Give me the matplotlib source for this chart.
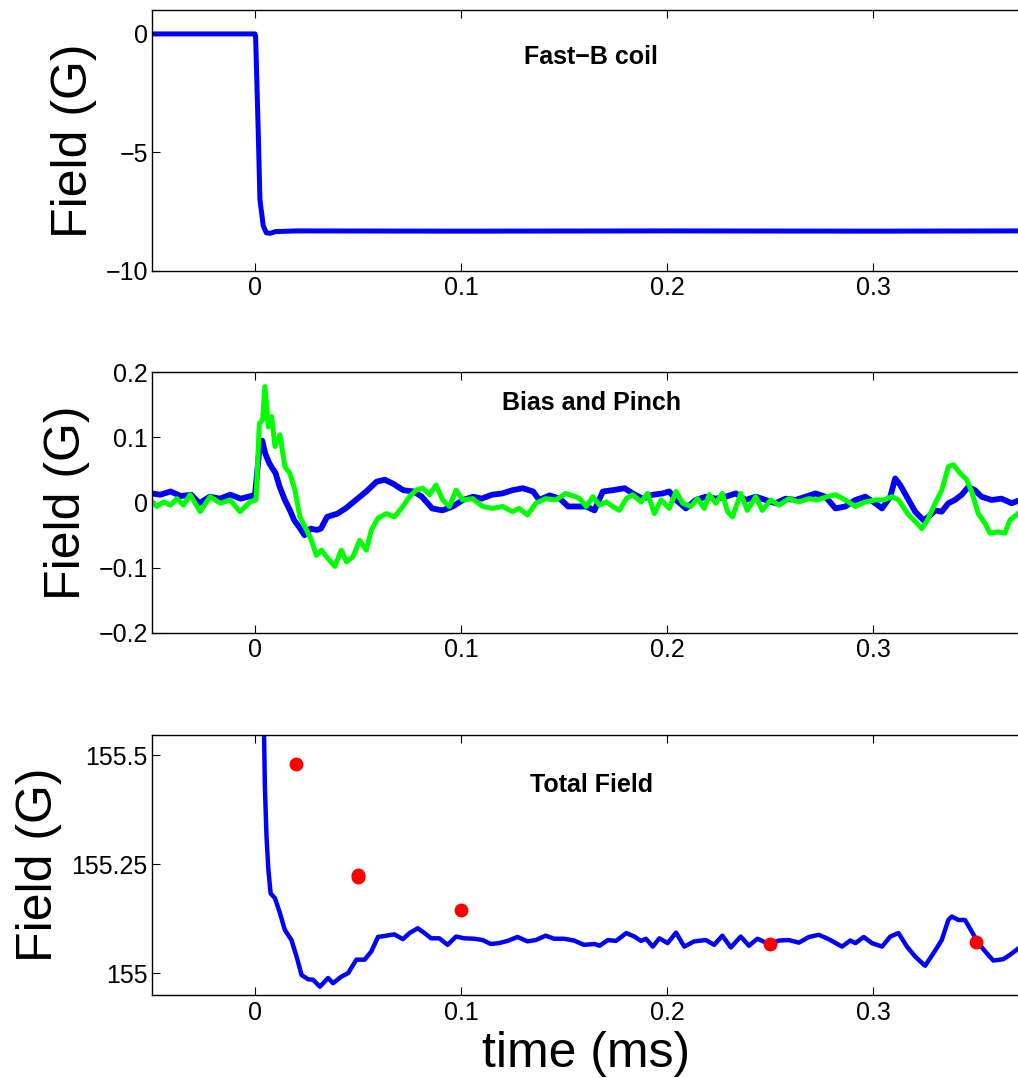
import matplotlib
matplotlib.use("Agg")
import matplotlib.pyplot as plt
import numpy as np

plt.rcParams['font.family'] = ['Liberation Sans', 'DejaVu Sans']

# Fast-B coil field (G) vs time (ms)
coil_t = [-0.05, 0.0, 0.0003, 0.0016, 0.0024, 0.004, 0.0055, 0.0075, 0.010, 0.020,
          0.10, 0.20, 0.30, 0.372]
coil_b = [0.0, 0.0, -0.1, -4.2, -7.0, -8.1, -8.40, -8.42, -8.35, -8.32,
          -8.33, -8.32, -8.33, -8.32]

# bias coil (blue) and pinch coil (green) field (G)
bias_t = [-0.050, -0.046, -0.041, -0.036, -0.031, -0.027, -0.022, -0.017, -0.012, -0.007,
          -0.002, 0.000, 0.0024, 0.0035, 0.005, 0.007, 0.010, 0.012, 0.0145, 0.017,
          0.019, 0.022, 0.024, 0.027, 0.030, 0.032, 0.035, 0.040, 0.044, 0.049,
          0.054, 0.059, 0.063, 0.067, 0.072, 0.077, 0.081, 0.086, 0.091, 0.096,
          0.101, 0.106, 0.110, 0.115, 0.120, 0.125, 0.130, 0.135, 0.138, 0.143,
          0.148, 0.152, 0.1576, 0.1608, 0.1648, 0.1689, 0.1737, 0.1794, 0.1834, 0.1882,
          0.1931, 0.1979, 0.2011, 0.2044, 0.2092, 0.2140, 0.2189, 0.2237, 0.2285, 0.2334,
          0.2382, 0.2431, 0.2479, 0.2527, 0.2576, 0.2624, 0.2673, 0.2721, 0.2769, 0.2818,
          0.2866, 0.2915, 0.2963, 0.3011, 0.3044, 0.3084, 0.3108, 0.3132, 0.3173, 0.3205,
          0.3245, 0.3269, 0.3302, 0.3334, 0.3366, 0.3398, 0.3431, 0.3463, 0.3495, 0.3527,
          0.3576, 0.3624, 0.3673, 0.3715]
bias_b = [0.014, 0.012, 0.017, 0.010, 0.012, -0.001, 0.009, 0.006, 0.012, 0.006,
          0.010, 0.012, 0.091, 0.095, 0.075, 0.060, 0.045, 0.024, 0.004, -0.012,
          -0.027, -0.040, -0.050, -0.040, -0.042, -0.040, -0.022, -0.017, -0.009, 0.004,
          0.017, 0.032, 0.035, 0.029, 0.019, 0.017, 0.009, -0.009, -0.012, -0.006,
          0.004, 0.009, 0.006, 0.012, 0.014, 0.019, 0.022, 0.017, 0.004, 0.011,
          0.006, -0.006, -0.006, -0.006, -0.012, 0.017, 0.019, 0.022, 0.014, 0.006,
          0.012, 0.014, 0.017, 0.004, -0.009, 0.004, 0.009, 0.006, 0.009, 0.014,
          0.004, 0.009, 0.004, -0.001, 0.006, 0.004, 0.009, 0.014, 0.009, -0.009,
          -0.006, 0.004, 0.009, -0.001, -0.009, 0.009, 0.037, 0.027, 0.004, -0.014,
          -0.027, -0.022, -0.012, -0.014, -0.001, 0.004, 0.012, 0.024, 0.019, 0.009,
          0.004, 0.006, -0.001, 0.004]

pinch_t = [-0.0508, -0.0476, -0.0444, -0.0411, -0.0379, -0.0347, -0.0315, -0.0266, -0.0218, -0.0169,
           -0.0121, -0.0073, -0.0024, 0.0005, 0.0021, 0.0037, 0.0048, 0.0065, 0.0081, 0.0097,
           0.0121, 0.0145, 0.0169, 0.0194, 0.0218, 0.0250, 0.0274, 0.0298, 0.0323, 0.0347,
           0.0387, 0.0419, 0.0444, 0.0476, 0.0508, 0.0540, 0.0565, 0.0597, 0.0637, 0.0677,
           0.0718, 0.0750, 0.0782, 0.0815, 0.0847, 0.0879, 0.0911, 0.0944, 0.0976, 0.1008,
           0.1056, 0.1105, 0.1153, 0.1202, 0.1250, 0.1282, 0.1323, 0.1363, 0.1411, 0.1460,
           0.1508, 0.1556, 0.1576, 0.1608, 0.1640, 0.1673, 0.1705, 0.1737, 0.1769, 0.1802,
           0.1834, 0.1874, 0.1906, 0.1939, 0.1971, 0.2011, 0.2044, 0.2076, 0.2116, 0.2148,
           0.2181, 0.2205, 0.2237, 0.2269, 0.2294, 0.2318, 0.2358, 0.2390, 0.2431, 0.2463,
           0.2503, 0.2544, 0.2592, 0.2640, 0.2689, 0.2729, 0.2777, 0.2818, 0.2866, 0.2915,
           0.2963, 0.3011, 0.3052, 0.3092, 0.3124, 0.3173, 0.3205, 0.3237, 0.3261, 0.3302,
           0.3334, 0.3366, 0.3390, 0.3423, 0.3455, 0.3479, 0.3511, 0.3544, 0.3568, 0.3608,
           0.3640, 0.3665, 0.3715]
pinch_b = [0.004, -0.006, 0.001, -0.004, 0.006, -0.004, 0.012, -0.014, 0.009, -0.001,
           0.004, -0.014, 0.001, 0.004, 0.121, 0.127, 0.178, 0.116, 0.132, 0.086,
           0.104, 0.055, 0.045, 0.019, -0.022, -0.042, -0.058, -0.081, -0.073, -0.083,
           -0.098, -0.073, -0.091, -0.083, -0.058, -0.073, -0.042, -0.024, -0.017, -0.022,
           -0.006, 0.009, 0.019, 0.022, 0.012, 0.027, 0.004, -0.006, 0.019, 0.004,
           0.006, -0.006, -0.009, -0.006, -0.014, -0.009, -0.019, -0.001, 0.006, 0.004,
           0.014, 0.009, 0.006, -0.006, 0.009, -0.004, 0.001, -0.006, -0.012, 0.006,
           0.012, 0.001, 0.014, -0.017, 0.004, -0.009, 0.017, -0.001, -0.006, 0.006,
           -0.009, 0.012, -0.001, 0.014, -0.014, -0.022, 0.014, -0.012, 0.009, -0.012,
           0.004, -0.004, 0.006, 0.001, 0.006, 0.004, 0.009, 0.012, 0.004, -0.006,
           0.001, 0.004, 0.004, 0.009, 0.004, -0.019, -0.029, -0.040, -0.029, -0.001,
           0.019, 0.055, 0.058, 0.045, 0.035, 0.017, -0.017, -0.032, -0.047, -0.045,
           -0.047, -0.027, -0.014]

# total field magnitude (G)
total_t = [-0.05, 0.0, 0.003, 0.0044, 0.0048, 0.0056, 0.0065, 0.0076, 0.0097, 0.0121,
           0.0145, 0.0177, 0.0202, 0.0226, 0.0258, 0.0282, 0.0315, 0.0355, 0.0379, 0.0419,
           0.0452, 0.0492, 0.0532, 0.0565, 0.0597, 0.0637, 0.0677, 0.0718, 0.0750, 0.0790,
           0.0823, 0.0855, 0.0895, 0.0935, 0.0976, 0.1016, 0.1065, 0.1105, 0.1145, 0.1185,
           0.1226, 0.1274, 0.1323, 0.1363, 0.1411, 0.1452, 0.1500, 0.1548, 0.1597, 0.1648,
           0.1673, 0.1713, 0.1753, 0.1802, 0.1842, 0.1874, 0.1898, 0.1931, 0.1963, 0.2003,
           0.2044, 0.2084, 0.2132, 0.2189, 0.2229, 0.2269, 0.2310, 0.2358, 0.2398, 0.2439,
           0.2495, 0.2544, 0.2592, 0.2640, 0.2689, 0.2737, 0.2785, 0.2850, 0.2890, 0.2915,
           0.2955, 0.2995, 0.3044, 0.3084, 0.3124, 0.3165, 0.3205, 0.3253, 0.3294, 0.3334,
           0.3366, 0.3382, 0.3415, 0.3447, 0.3479, 0.3511, 0.3552, 0.3584, 0.3632, 0.3665,
           0.3715]
total_b = [163.40, 163.40, 157.00, 155.550, 155.428, 155.313, 155.237, 155.183, 155.172, 155.138,
           155.099, 155.076, 155.038, 154.996, 154.986, 154.985, 154.969, 154.989, 154.977, 154.992,
           155.000, 155.031, 155.031, 155.050, 155.083, 155.086, 155.089, 155.078, 155.092, 155.103,
           155.092, 155.080, 155.080, 155.065, 155.084, 155.080, 155.079, 155.076, 155.067, 155.069,
           155.074, 155.083, 155.073, 155.076, 155.086, 155.079, 155.079, 155.075, 155.065, 155.067,
           155.063, 155.076, 155.074, 155.092, 155.084, 155.074, 155.079, 155.061, 155.080, 155.069,
           155.093, 155.061, 155.073, 155.076, 155.065, 155.086, 155.059, 155.084, 155.063, 155.079,
           155.067, 155.075, 155.076, 155.070, 155.083, 155.088, 155.078, 155.061, 155.075, 155.069,
           155.083, 155.069, 155.061, 155.084, 155.092, 155.061, 155.038, 155.017, 155.046, 155.076,
           155.122, 155.130, 155.122, 155.122, 155.096, 155.069, 155.046, 155.029, 155.032, 155.042,
           155.060]

# measured field points
meas_t = [0.02, 0.05, 0.05, 0.10, 0.25, 0.35]
meas_b = [155.479, 155.226, 155.220, 155.145, 155.067, 155.072]

xticks = [0, 0.1, 0.2, 0.3]
xticklabels = ["0", "0.1", "0.2", "0.3"]

fig = plt.figure(figsize=(10.18, 10.78), dpi=100)
left, width = 0.1493, 0.8527
ax1 = fig.add_axes([left, 0.7489, width, 0.2416])
ax2 = fig.add_axes([left, 0.4129, width, 0.2418])
ax3 = fig.add_axes([left, 0.0770, width, 0.2415])

ax1.plot(coil_t, coil_b, color='b', lw=3.6, solid_capstyle='butt')
ax1.set_ylim(-10, 1)
ax1.set_yticks([-10, -5, 0])

ax2.plot(bias_t, bias_b, color='b', lw=4.2)
ax2.plot(pinch_t, pinch_b, color=(0, 1, 0), lw=3.6)
ax2.set_ylim(-0.2, 0.2)
ax2.set_yticks([-0.2, -0.1, 0, 0.1, 0.2])
ax2.set_yticklabels(["\u22120.2", "\u22120.1", "0", "0.1", "0.2"])

ax3.plot(total_t, total_b, color='b', lw=3.2)
ax3.plot(meas_t, meas_b, 'o', color='r', ms=9, mec='r')
ax3.set_ylim(154.95, 155.547)
ax3.set_yticks([155, 155.25, 155.5])
ax3.set_yticklabels(["155", "155.25", "155.5"])
ax3.set_xlabel("time (ms)", fontsize=36, labelpad=5)

titles = ["Fast\u2212B coil", "Bias and Pinch", "Total Field"]
title_y = [0.821, 0.882, 0.807]
for ax, title, ty in zip([ax1, ax2, ax3], titles, title_y):
    ax.set_xlim(-0.05, 0.3714)
    ax.set_xticks(xticks)
    ax.set_xticklabels(xticklabels)
    ax.tick_params(direction='in', top=True, right=False, length=6, width=0.8,
                   labelsize=18)
    ax.tick_params(axis='x', pad=4)
    ax.tick_params(axis='y', pad=3)
    for sp in ax.spines.values():
        sp.set_linewidth(1.0)
    ax.spines['right'].set_visible(False)
    ax.set_ylabel("Field (G)", fontsize=36)
    ax.text(0.506, ty, title, transform=ax.transAxes, ha='center', va='center',
            fontsize=18, fontweight='bold')

ax1.yaxis.set_label_coords(-0.0635, 0.5)
ax2.yaxis.set_label_coords(-0.0716, 0.5)
ax3.yaxis.set_label_coords(-0.104, 0.5)

fig.savefig("out.png", dpi=100)
